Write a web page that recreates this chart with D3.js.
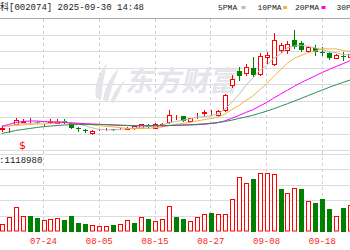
<!DOCTYPE html>
<html>
<head>
<meta charset="utf-8">
<script src="https://cdn.jsdelivr.net/npm/d3@7/dist/d3.min.js"></script>
<style>
body { margin: 0; background: #fff; }
svg { display: block; }
</style>
</head>
<body>
<div id="chart"></div>
<script>
// daily k-line, 002074
var dates = ["07-16","07-17","07-18","07-21","07-22","07-23","07-24","07-25","07-28","07-29","07-30","07-31",
	"08-01","08-04","08-05","08-06","08-07","08-08","08-11","08-12","08-13","08-14","08-15","08-18","08-19","08-20",
	"08-21","08-22","08-25","08-26","08-27","08-28","08-29","09-01","09-02","09-03","09-04","09-05","09-08","09-09",
	"09-10","09-11","09-12","09-15","09-16","09-17","09-18","09-19","09-22","09-23","09-24"];
var open = [24.91,24.82,25.73,26.27,26.33,26.27,25.55,26.27,26.00,26.36,26.09,25.09,
	24.73,24.15,24.82,24.82,24.91,24.91,25.00,25.09,25.18,25.49,25.18,25.69,26.13,27.05,
	27.27,26.45,27.55,27.82,27.55,27.45,28.36,32.82,35.45,35.09,36.00,34.91,37.91,36.73,
	39.27,39.27,41.09,40.55,39.09,39.64,39.00,38.73,37.82,38.27,38.00];
var high = [25.45,25.09,26.82,26.64,26.91,26.45,25.73,26.64,26.64,26.64,26.27,25.36,
	24.91,24.64,25.00,25.09,25.00,25.18,25.27,25.64,25.82,25.82,25.91,26.00,28.36,27.45,
	27.36,26.91,27.82,28.36,28.36,28.36,31.27,34.73,36.18,36.73,38.00,38.73,38.91,42.36,
	40.55,40.91,42.91,40.91,40.00,40.18,39.73,38.91,38.55,38.91,38.73];
var low = [24.55,24.45,25.64,26.09,26.27,26.00,25.45,26.00,25.91,26.00,25.09,24.55,
	24.36,24.09,24.64,24.73,24.64,24.82,24.82,25.00,25.09,25.09,25.09,25.45,26.09,26.64,
	26.36,26.36,26.91,27.27,27.45,27.36,28.27,32.55,33.82,34.73,34.55,34.73,36.91,36.55,
	38.91,38.73,39.64,39.09,38.91,38.36,38.36,37.64,37.73,37.45,37.82];
var close = [25.09,25.00,26.55,26.36,26.40,26.18,25.69,26.36,26.45,26.27,25.18,24.96,
	24.60,24.51,24.91,24.91,24.82,25.00,25.09,25.45,25.73,25.40,25.73,25.76,27.45,27.13,
	26.45,26.82,27.64,27.91,27.64,28.27,31.00,34.09,34.55,36.18,34.73,38.27,38.45,41.09,
	40.18,40.45,39.82,39.27,39.82,38.91,38.91,37.82,38.45,38.18,38.55];
var volume = [252000,467000,794000,500000,500000,448000,360000,415000,448000,360000,500000,284000,
	229000,196000,173000,173000,219000,229000,360000,284000,467000,415000,327000,415000,827000,467000,
	392000,350000,467000,556000,598000,565000,565000,1069000,1775000,1559000,1699000,1886000,1886000,1853000,
	1395000,1265000,1415000,1373000,980000,938000,1069000,742000,500000,775000,873000];
// 1 = red bar, 0 = green bar
var volUp = [1,1,1,1,0,0,1,1,1,0,0,0,
	0,1,1,1,0,1,1,0,1,0,1,1,1,0,
	0,1,1,1,0,1,1,1,1,1,0,1,1,1,
	0,1,1,0,1,0,0,0,1,0,1];
var ma5 = [25.45,25.45,25.73,25.91,25.87,26.09,26.24,26.20,26.22,26.20,26.00,25.85,
	25.49,25.11,24.84,24.78,24.75,24.84,24.95,25.05,25.22,25.33,25.47,25.62,26.02,26.29,
	26.51,26.73,27.09,27.18,27.29,27.65,28.49,29.78,31.11,32.82,34.11,35.56,36.44,37.75,
	38.55,39.69,40.00,40.16,39.91,39.65,39.35,38.95,38.78,38.45,38.38];
var ma10 = [25.45,25.45,25.55,25.64,25.73,25.82,25.82,25.91,26.00,26.09,26.00,25.95,
	25.85,25.65,25.51,25.38,25.29,25.16,25.02,24.95,25.00,25.04,25.15,25.27,25.53,25.76,
	25.93,26.11,26.36,26.60,26.80,27.07,27.60,28.44,29.15,30.05,30.87,32.02,33.11,34.42,
	35.67,36.89,37.78,38.29,38.82,39.09,39.51,39.47,39.47,39.18,39.02];
var ma20 = [25.36,25.73,26.09,26.27,26.36,26.36,26.27,26.18,26.13,26.09,26.00,25.95,
	25.87,25.82,25.76,25.71,25.65,25.60,25.55,25.49,25.53,25.55,25.51,25.47,25.53,25.56,
	25.60,25.64,25.69,25.76,25.89,26.05,26.38,26.85,27.35,27.91,28.40,29.07,29.73,30.51,
	31.24,31.98,32.69,33.36,33.98,34.58,35.20,35.75,36.29,36.80,37.35];
var ma30 = [24.09,24.36,24.64,24.82,25.00,25.18,25.33,25.45,25.55,25.64,25.69,25.73,
	25.73,25.73,25.73,25.69,25.64,25.58,25.55,25.51,25.49,25.49,25.51,25.53,25.56,25.60,
	25.64,25.69,25.76,25.85,25.96,26.09,26.27,26.51,26.82,27.09,27.40,27.76,28.15,28.58,
	29.04,29.51,30.00,30.49,31.00,31.51,32.00,32.49,32.95,33.40,33.82];
var priceTicks = [21,24,27,30,33,36,39,42,45];
var volTicks = [0,500000,1000000,1500000,2000000,2500000];
var dateLabels = ["07-24","08-05","08-15","08-27","09-08","09-18"];
var maNames = ["5PMA","10PMA","20PMA","30PMA"];
var title = "国轩高科[002074] 2025-09-30 14:48";
var volLabel = "成交量:1118980";

var width = 350, height = 250;
var red = "#f00", green = "#008000";
var maColors = ["#bcbcbc","#f5b340","#ff00ff","#2e8b57"];

var svg = d3.select("#chart").append("svg")
	.attr("width", width).attr("height", height);

var x = d3.scalePoint().domain(dates).range([1.7, 350.2]);
var y = d3.scaleLinear().domain([21, 45]).range([150.5, 18.5]);
var yv = d3.scaleLinear().domain([0, 2500000]).range([231.5, 154.5]);

function px(v) { return Math.round(v - 0.5) + 0.5; }

// horizontal grid
svg.selectAll(".hgrid").data(priceTicks).enter().append("line")
	.attr("x1", 0).attr("x2", width)
	.attr("y1", function (d) { return px(y(d)); }).attr("y2", function (d) { return px(y(d)); })
	.attr("stroke", function (d) { return d == 45 ? "#a8a8a8" : "#dcdcdc"; });
svg.selectAll(".vgrid").data(volTicks.slice(1)).enter().append("line")
	.attr("x1", 0).attr("x2", width)
	.attr("y1", function (d) { return px(yv(d)); }).attr("y2", function (d) { return px(yv(d)); })
	.attr("stroke", "#dcdcdc");

// vertical dashed grid
svg.selectAll(".dgrid").data(dateLabels).enter().append("line")
	.attr("x1", function (d) { return px(x(d)); }).attr("x2", function (d) { return px(x(d)); })
	.attr("y1", 19).attr("y2", 231)
	.attr("stroke", "#d0d0d0").attr("stroke-dasharray", "3,3");

// watermark
var wm = svg.append("g").attr("fill", "#e4e4ea");
wm.append("path").attr("d", "M96 98 Q93 80 107 63 Q103 80 101 99 Z");
wm.append("path").attr("d", "M103 100 Q105 82 119 68 Q112 85 108 101 Z");
wm.append("path").attr("d", "M110 102 Q115 88 125 80 Q119 93 114 103 Z");
wm.append("text").attr("transform", "translate(125,91) skewX(-12)")
	.attr("font-family", "Noto Sans CJK SC").attr("font-weight", "bold")
	.attr("font-size", 28).text("东方财富");

// candles
var candle = svg.append("g");
dates.forEach(function (d, i) {
	var c = Math.round(x(d));
	var up = close[i] >= open[i];
	var col = up ? red : green;
	candle.append("line")
		.attr("x1", c + 0.5).attr("x2", c + 0.5)
		.attr("y1", Math.round(y(high[i]))).attr("y2", Math.round(y(low[i])) + 1)
		.attr("stroke", col);
	var top = Math.round(y(Math.max(open[i], close[i])));
	var bot = Math.round(y(Math.min(open[i], close[i])));
	if (up) {
		candle.append("rect").attr("x", c - 1.5).attr("y", top + 0.5)
			.attr("width", 4).attr("height", Math.max(bot - top, 0))
			.attr("fill", "#fff").attr("stroke", col);
	} else {
		candle.append("rect").attr("x", c - 2).attr("y", top)
			.attr("width", 5).attr("height", Math.max(bot - top, 1))
			.attr("fill", col);
	}
});

// moving averages
[ma5, ma10, ma20, ma30].forEach(function (s, k) {
	var line = d3.line().x(function (d, i) { return x(dates[i]); }).y(function (d) { return y(d); });
	svg.append("path").datum(s).attr("d", line)
		.attr("fill", "none").attr("stroke", maColors[k]).attr("stroke-width", 1);
});

// volume bars
var vol = svg.append("g");
dates.forEach(function (d, i) {
	var c = Math.round(x(d));
	var t = Math.round(yv(volume[i]));
	if (volUp[i]) {
		vol.append("rect").attr("x", c - 1.5).attr("y", t + 0.5)
			.attr("width", 4).attr("height", 231 - t - 0.5)
			.attr("fill", "#fff").attr("stroke", red);
	} else {
		vol.append("rect").attr("x", c - 2).attr("y", t)
			.attr("width", 5).attr("height", 232 - t)
			.attr("fill", green);
	}
});

// event marker
svg.append("text").attr("x", x("07-21")).attr("y", 149)
	.attr("text-anchor", "middle").attr("font-family", "DejaVu Sans").attr("font-size", 11)
	.attr("fill", red).text("$");

// header
var mono = "'Liberation Mono', 'DejaVu Sans Mono', 'Noto Sans CJK SC'";
svg.append("text").attr("x", -27).attr("y", 10)
	.attr("font-family", mono).attr("font-size", 9).attr("fill", "#222").text(title);

var legX = [218, 257.5, 295, 336.5];
var legMark = [241.5, 283, 321.5, 360];
maNames.forEach(function (n, k) {
	svg.append("text").attr("x", legX[k]).attr("y", 10)
		.attr("font-family", mono).attr("font-size", 8).attr("fill", "#222").text(n);
	svg.append("rect").attr("x", legMark[k]).attr("y", 6)
		.attr("width", 4).attr("height", 3).attr("fill", maColors[k]);
});

svg.append("text").attr("x", 42.3).attr("y", 163).attr("text-anchor", "end")
	.attr("font-family", mono).attr("font-size", 9).attr("fill", "#222").text(volLabel);

// date axis
svg.selectAll(".dlab").data(dateLabels).enter().append("text")
	.attr("x", function (d) { return x(d); }).attr("y", 244)
	.attr("text-anchor", "middle").attr("font-family", mono).attr("font-size", 9)
	.attr("fill", "#f22").text(function (d) { return d; });
</script>
</body>
</html>
